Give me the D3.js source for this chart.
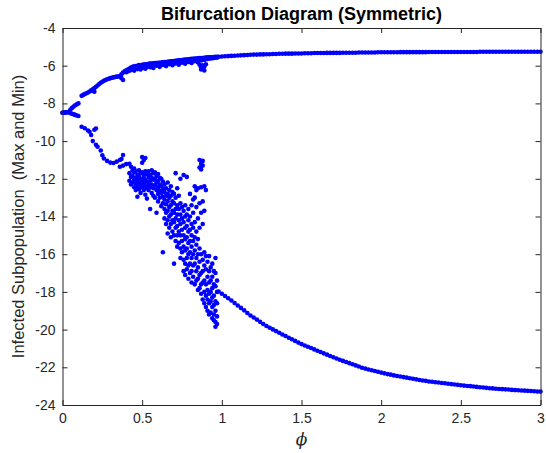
<!DOCTYPE html>
<html>
<head>
<meta charset="utf-8">
<script src="https://cdn.jsdelivr.net/npm/d3@7"></script>
<style>
body{margin:0;background:#fff;}
svg text{font-family:"Liberation Sans",Arial,Helvetica,sans-serif;}
</style>
</head>
<body>
<div class="chart"></div>
<script>
var xTicks=[0,0.5,1,1.5,2,2.5,3];
var yTicks=[-24,-22,-20,-18,-16,-14,-12,-10,-8,-6,-4];

// maxima, small phi (before the noisy band)
var maxEarly=[[0,-8.50],[0.01,-8.49],[0.02,-8.48],[0.03,-8.47],[0.04,-8.44],[0.05,-8.33],[0.06,-8.24],[0.07,-8.17],[0.08,-8.10],[0.09,-8.05],[0.10,-8.00],
  [0.12,-7.60],[0.13,-7.55],[0.14,-7.50],[0.15,-7.46],[0.16,-7.42],[0.17,-7.37],[0.18,-7.31],[0.19,-7.25],[0.19,-7.33],[0.20,-7.19],[0.20,-7.38],[0.21,-7.12],
  [0.22,-7.05],[0.23,-6.97],[0.24,-6.91],[0.25,-6.85],[0.26,-6.80],[0.27,-6.76],[0.28,-6.72],[0.29,-6.69],[0.30,-6.66],[0.31,-6.64],[0.32,-6.62],[0.33,-6.60],
  [0.34,-6.58],[0.35,-6.57],[0.36,-6.55],[0.37,-6.45],[0.37,-6.66],[0.38,-6.36],[0.38,-6.76],[0.39,-6.30]];

// minima, small phi
var minEarly=[[0,-8.50],[0.01,-8.49],[0.02,-8.48],[0.03,-8.47],[0.04,-8.47],[0.05,-8.52],[0.06,-8.55],[0.07,-8.58],[0.08,-8.61],[0.09,-8.64],[0.10,-8.67],
  [0.12,-9.24],[0.14,-9.32],[0.16,-9.44],[0.17,-9.50],[0.18,-9.68],[0.20,-9.40],[0.21,-9.33],
  [0.19,-10.0],[0.21,-10.2],[0.22,-10.3],[0.24,-10.5],[0.25,-10.75],[0.26,-10.92],[0.28,-11.05],[0.30,-11.14],
  [0.32,-11.16],[0.34,-11.09],[0.36,-11.00],[0.37,-10.95],[0.38,-10.74],
  [0.36,-11.36],[0.38,-11.30],[0.40,-11.22],[0.42,-11.20],[0.43,-11.36]];

// maxima band, phi 0.40 - 0.97
var maxBand=[[0.40,[-6.25,-6.35]],[0.41,[-6.20,-6.30]],[0.42,[-6.15,-6.27]],[0.43,[-6.10,-6.22]],[0.44,[-6.06,-6.20]],
  [0.45,[-6.03,-6.15,-6.26]],[0.46,[-6.02,-6.12]],[0.47,[-6.00,-6.18]],[0.48,[-5.97,-6.08]],[0.49,[-5.98,-6.12,-6.20]],
  [0.50,[-5.95,-6.05]],[0.51,[-5.94,-6.10]],[0.52,[-5.92,-6.02,-6.16]],[0.53,[-5.93,-6.06]],[0.54,[-5.90,-6.00]],
  [0.55,[-5.89,-6.08]],[0.56,[-5.88,-5.98]],[0.57,[-5.87,-6.03,-6.12]],[0.58,[-5.86,-5.95]],[0.59,[-5.86,-6.00]],
  [0.60,[-5.84,-5.93]],[0.61,[-5.84,-5.97,-6.06]],[0.62,[-5.83,-5.91]],[0.63,[-5.82,-5.96]],[0.64,[-5.81,-5.89]],
  [0.65,[-5.80,-5.94,-6.02]],[0.66,[-5.79,-5.87]],[0.67,[-5.78,-5.92]],[0.68,[-5.77,-5.85]],[0.69,[-5.76,-5.90,-5.98]],
  [0.70,[-5.75,-5.83]],[0.71,[-5.74,-5.88]],[0.72,[-5.73,-5.81]],[0.73,[-5.72,-5.86,-5.95]],[0.74,[-5.71,-5.79]],
  [0.75,[-5.70,-5.84]],[0.76,[-5.69,-5.77]],[0.77,[-5.68,-5.82,-5.90]],[0.78,[-5.67,-5.75]],[0.79,[-5.66,-5.80]],
  [0.80,[-5.65,-5.73]],[0.81,[-5.64,-5.78,-5.86]],[0.82,[-5.63,-5.71]],[0.83,[-5.62,-5.76]],[0.84,[-5.62,-5.69]],
  [0.85,[-5.61,-5.74,-5.82]],[0.86,[-5.60,-5.68,-5.95]],[0.87,[-5.60,-5.72,-6.08,-6.20]],[0.88,[-5.59,-5.67,-5.98,-6.15]],
  [0.89,[-5.58,-5.70,-6.05,-6.25]],[0.90,[-5.57,-5.65,-5.92]],[0.91,[-5.56,-5.64]],[0.92,[-5.56,-5.62]],[0.93,[-5.55,-5.61]],
  [0.94,[-5.55,-5.60]],[0.95,[-5.54,-5.59]],[0.96,[-5.53,-5.58]],[0.97,[-5.53,-5.57]]];

// minima cloud, phi 0.42 - 0.97
var minCloud=[[0.42,[-11.7,-12.1]],[0.43,[-11.9,-12.3]],[0.44,[-11.55,-11.85,-12.2]],[0.45,[-11.45,-11.65,-12.05,-12.45]],
  [0.46,[-11.6,-11.95,-12.25,-12.6]],[0.47,[-11.8,-12.1,-12.4,-12.95]],[0.48,[-11.55,-11.9,-12.2,-12.55]],[0.49,[-11.7,-12.0,-12.3,-12.75]],
  [0.50,[-10.85,-11.15,-11.65,-12.1,-12.45]],[0.51,[-11.0,-11.8,-11.95,-12.25,-12.6]],[0.52,[-10.9,-11.6,-12.05,-12.4,-12.85]],
  [0.53,[-11.75,-12.15,-12.5,-13.05]],[0.54,[-11.6,-11.9,-12.3,-12.6]],[0.55,[-11.8,-12.1,-12.45,-13.6]],[0.56,[-11.55,-11.95,-12.3,-12.75]],
  [0.57,[-11.7,-12.05,-12.5,-12.9]],[0.58,[-11.65,-12.0,-12.35,-13.0]],[0.59,[-11.85,-12.2,-12.6,-13.8]],[0.60,[-11.75,-12.1,-12.45,-12.8,-13.2]],
  [0.61,[-11.95,-12.3,-12.65,-13.0]],[0.62,[-12.0,-12.4,-12.75,-13.45]],[0.63,[-12.15,-12.55,-12.95,-13.3,-15.9]],
  [0.64,[-12.3,-12.7,-13.1,-13.6,-14.1]],[0.65,[-12.5,-12.9,-13.35,-13.8,-14.4]],[0.66,[-12.2,-12.8,-13.2,-13.7,-14.2,-14.9]],
  [0.67,[-12.6,-13.0,-13.5,-14.0,-14.6]],[0.68,[-12.4,-12.9,-13.4,-13.9,-14.4,-15.1]],[0.69,[-12.7,-13.2,-13.7,-14.2,-14.8]],
  [0.70,[-12.8,-13.3,-13.8,-14.3,-15.0,-16.5]],[0.71,[-11.7,-13.0,-13.6,-14.1,-14.6,-15.3]],[0.72,[-12.5,-13.4,-13.9,-14.5,-15.0,-15.6]],
  [0.73,[-12.9,-13.6,-14.2,-14.8,-15.4]],[0.74,[-12.0,-13.3,-13.9,-14.4,-15.0,-15.7,-16.2]],[0.75,[-13.5,-14.1,-14.7,-15.3,-15.9]],
  [0.76,[-11.8,-13.7,-14.3,-15.0,-15.6,-16.3,-16.9]],[0.77,[-13.4,-14.0,-14.6,-15.2,-15.8,-16.5,-17.1]],
  [0.78,[-11.9,-13.9,-14.5,-15.1,-15.7,-16.2,-16.8]],[0.79,[-13.6,-14.2,-14.8,-15.4,-16.0,-16.6,-17.3]],
  [0.80,[-12.8,-14.0,-14.7,-15.3,-15.9,-16.5,-17.0]],[0.81,[-13.4,-14.4,-15.0,-15.6,-16.2,-16.9,-17.5]],
  [0.82,[-13.1,-13.8,-14.6,-15.3,-16.0,-16.6,-17.2]],[0.83,[-12.4,-13.0,-14.3,-15.1,-15.8,-16.5,-17.6]],
  [0.84,[-12.6,-13.5,-14.8,-15.5,-16.2,-16.9,-17.4]],[0.85,[-12.5,-14.1,-15.2,-16.0,-16.7,-17.3,-17.9]],
  [0.86,[-11.0,-11.4,-13.3,-14.6,-15.7,-16.4,-17.1,-17.8]],[0.87,[-11.2,-11.5,-12.45,-13.8,-16.0,-17.0,-17.6,-18.1]],
  [0.88,[-11.05,-11.3,-13.2,-14.4,-16.3,-16.9,-17.5,-18.4]],[0.89,[-12.4,-13.7,-15.9,-16.6,-17.4,-18.0,-18.6]],
  [0.90,[-12.6,-16.1,-16.8,-17.6,-18.2,-18.8]],[0.91,[-16.4,-17.2,-17.9,-18.4,-19.0]],[0.92,[-16.1,-16.9,-17.5,-18.1,-18.6,-19.2]],
  [0.93,[-16.7,-17.4,-18.0,-18.5,-19.1]],[0.94,[-16.5,-17.2,-17.8,-18.3,-18.8,-19.4]],[0.95,[-16.9,-17.6,-18.2,-18.7,-19.2,-19.5]],
  [0.96,[-16.2,-17.0,-17.7,-18.5,-19.0,-19.6,-19.85]],[0.97,[-17.4,-18.0,-18.6,-19.3,-19.7]]];

// periodic regime, phi 0.98 - 3
var maxTail=[[0.98,-5.53],[1.00,-5.51],[1.02,-5.50],[1.04,-5.49],[1.06,-5.48],[1.08,-5.47],[1.10,-5.46],[1.12,-5.45],[1.14,-5.44],[1.16,-5.43],
  [1.18,-5.42],[1.20,-5.41],[1.22,-5.41],[1.24,-5.40],[1.26,-5.40],[1.28,-5.39],[1.30,-5.39],[1.32,-5.38],[1.34,-5.38],[1.36,-5.37],
  [1.38,-5.37],[1.40,-5.36],[1.42,-5.36],[1.44,-5.36],[1.46,-5.35],[1.48,-5.35],[1.50,-5.35],[1.52,-5.34],[1.54,-5.34],[1.56,-5.34],
  [1.58,-5.33],[1.60,-5.33],[1.62,-5.33],[1.64,-5.33],[1.66,-5.32],[1.68,-5.32],[1.70,-5.32],[1.72,-5.32],[1.74,-5.32],[1.76,-5.31],
  [1.78,-5.31],[1.80,-5.31],[1.82,-5.31],[1.84,-5.31],[1.86,-5.30],[1.88,-5.30],[1.90,-5.30],[1.92,-5.30],[1.94,-5.30],[1.96,-5.30],
  [1.98,-5.29],[2.00,-5.29],[2.02,-5.29],[2.04,-5.29],[2.06,-5.29],[2.08,-5.29],[2.10,-5.29],[2.12,-5.28],[2.14,-5.28],[2.16,-5.28],
  [2.18,-5.28],[2.20,-5.28],[2.22,-5.28],[2.24,-5.28],[2.26,-5.28],[2.28,-5.28],[2.30,-5.27],[2.32,-5.27],[2.34,-5.27],[2.36,-5.27],
  [2.38,-5.27],[2.40,-5.27],[2.42,-5.27],[2.44,-5.27],[2.46,-5.27],[2.48,-5.27],[2.50,-5.27],[2.52,-5.27],[2.54,-5.27],[2.56,-5.27],
  [2.58,-5.27],[2.60,-5.27],[2.62,-5.26],[2.64,-5.26],[2.66,-5.26],[2.68,-5.26],[2.70,-5.26],[2.72,-5.26],[2.74,-5.26],[2.76,-5.26],
  [2.78,-5.26],[2.80,-5.26],[2.82,-5.26],[2.84,-5.26],[2.86,-5.26],[2.88,-5.26],[2.90,-5.26],[2.92,-5.26],[2.94,-5.26],[2.96,-5.26],
  [2.98,-5.26],[3.00,-5.26]];

var minTail=[[0.98,-17.98],[1.00,-18.10],[1.02,-18.22],[1.04,-18.34],[1.06,-18.46],[1.08,-18.59],[1.10,-18.72],[1.12,-18.85],[1.14,-18.98],[1.16,-19.12],
  [1.18,-19.25],[1.20,-19.36],[1.22,-19.47],[1.24,-19.59],[1.26,-19.70],[1.28,-19.81],[1.30,-19.90],[1.32,-19.99],[1.34,-20.08],[1.36,-20.17],
  [1.38,-20.26],[1.40,-20.34],[1.42,-20.43],[1.44,-20.51],[1.46,-20.60],[1.48,-20.69],[1.50,-20.77],[1.52,-20.84],[1.54,-20.91],[1.56,-20.98],
  [1.58,-21.05],[1.60,-21.12],[1.62,-21.19],[1.64,-21.26],[1.66,-21.33],[1.68,-21.40],[1.70,-21.47],[1.72,-21.53],[1.74,-21.60],[1.76,-21.66],
  [1.78,-21.72],[1.80,-21.78],[1.82,-21.84],[1.84,-21.90],[1.86,-21.96],[1.88,-22.02],[1.90,-22.07],[1.92,-22.12],[1.94,-22.16],[1.96,-22.20],
  [1.98,-22.24],[2.00,-22.28],[2.02,-22.32],[2.04,-22.36],[2.06,-22.39],[2.08,-22.43],[2.10,-22.46],[2.12,-22.49],[2.14,-22.52],[2.16,-22.55],
  [2.18,-22.58],[2.20,-22.61],[2.22,-22.64],[2.24,-22.67],[2.26,-22.70],[2.28,-22.72],[2.30,-22.75],[2.32,-22.77],[2.34,-22.79],[2.36,-22.81],
  [2.38,-22.83],[2.40,-22.85],[2.42,-22.87],[2.44,-22.89],[2.46,-22.91],[2.48,-22.93],[2.50,-22.95],[2.52,-22.97],[2.54,-22.99],[2.56,-23.00],
  [2.58,-23.02],[2.60,-23.04],[2.62,-23.06],[2.64,-23.07],[2.66,-23.09],[2.68,-23.11],[2.70,-23.12],[2.72,-23.14],[2.74,-23.15],[2.76,-23.16],
  [2.78,-23.17],[2.80,-23.18],[2.82,-23.20],[2.84,-23.21],[2.86,-23.22],[2.88,-23.23],[2.90,-23.24],[2.92,-23.25],[2.94,-23.26],[2.96,-23.27],
  [2.98,-23.28],[3.00,-23.29]];

function drawChart(){
  var width=546, height=453;
  var left=62.5, right=540.5, top=28, bottom=405;
  var axisColor="#262626";

  var xScale=d3.scaleLinear().domain([0,3]).range([left,right]);
  var yScale=d3.scaleLinear().domain([-24,-4]).range([bottom,top]);

  var canvas=d3.select(".chart").append("svg")
    .attr("width",width)
    .attr("height",height)
    .style("display","block");

  canvas.append("rect").attr("width",width).attr("height",height).attr("fill","#fff");

  // flatten everything into [phi, value] pairs
  var pts=[];
  maxEarly.forEach(function(d){pts.push(d);});
  minEarly.forEach(function(d){pts.push(d);});
  maxBand.forEach(function(c){c[1].forEach(function(v){pts.push([c[0],v]);});});
  minCloud.forEach(function(c){c[1].forEach(function(v){pts.push([c[0],v]);});});
  maxTail.forEach(function(d){pts.push(d);});
  minTail.forEach(function(d){pts.push(d);});

  canvas.append("g").selectAll("circle")
    .data(pts)
    .enter()
    .append("circle")
    .attr("cx",function(d){return xScale(d[0]);})
    .attr("cy",function(d){return yScale(d[1]);})
    .attr("r",2.3)
    .attr("fill","#0000ff");

  var fmt=function(d){return String(d);};

  // axes, ticks pointing inward on all four sides
  var gx=canvas.append("g")
    .attr("transform","translate(0,"+bottom+")")
    .call(d3.axisBottom(xScale).tickValues(xTicks).tickFormat(fmt).tickSize(-5).tickSizeOuter(0).tickPadding(8));
  var gxt=canvas.append("g")
    .attr("transform","translate(0,"+top+")")
    .call(d3.axisTop(xScale).tickValues(xTicks).tickFormat("").tickSize(-5).tickSizeOuter(0));
  var gy=canvas.append("g")
    .attr("transform","translate("+left+",0)")
    .call(d3.axisLeft(yScale).tickValues(yTicks).tickFormat(fmt).tickSize(-5).tickSizeOuter(0).tickPadding(7));
  var gyr=canvas.append("g")
    .attr("transform","translate("+right+",0)")
    .call(d3.axisRight(yScale).tickValues(yTicks).tickFormat("").tickSize(-5).tickSizeOuter(0));

  [gx,gxt,gy,gyr].forEach(function(g){
    g.selectAll("path,line").attr("stroke",axisColor);
    g.selectAll("text").attr("fill",axisColor).style("font-size","14px");
  });

  canvas.append("text")
    .text("Bifurcation Diagram (Symmetric)")
    .attr("x",(left+right)/2)
    .attr("y",20)
    .attr("text-anchor","middle")
    .style("font-weight","bold")
    .style("font-size","18px")
    .attr("fill","#000");

  canvas.append("text")
    .text("\u03d5")
    .attr("x",(left+right)/2)
    .attr("y",445)
    .attr("text-anchor","middle")
    .style("font-family","'DejaVu Serif','Liberation Serif',serif")
    .style("font-style","italic")
    .style("font-size","17px")
    .attr("fill",axisColor);

  canvas.append("text")
    .text("Infected Subpopulation  (Max and Min)")
    .attr("transform","translate(24,"+((top+bottom)/2)+") rotate(-90)")
    .attr("text-anchor","middle")
    .style("white-space","pre")
    .style("font-size","16.5px")
    .attr("fill",axisColor);
}

drawChart();
</script>
</body>
</html>
